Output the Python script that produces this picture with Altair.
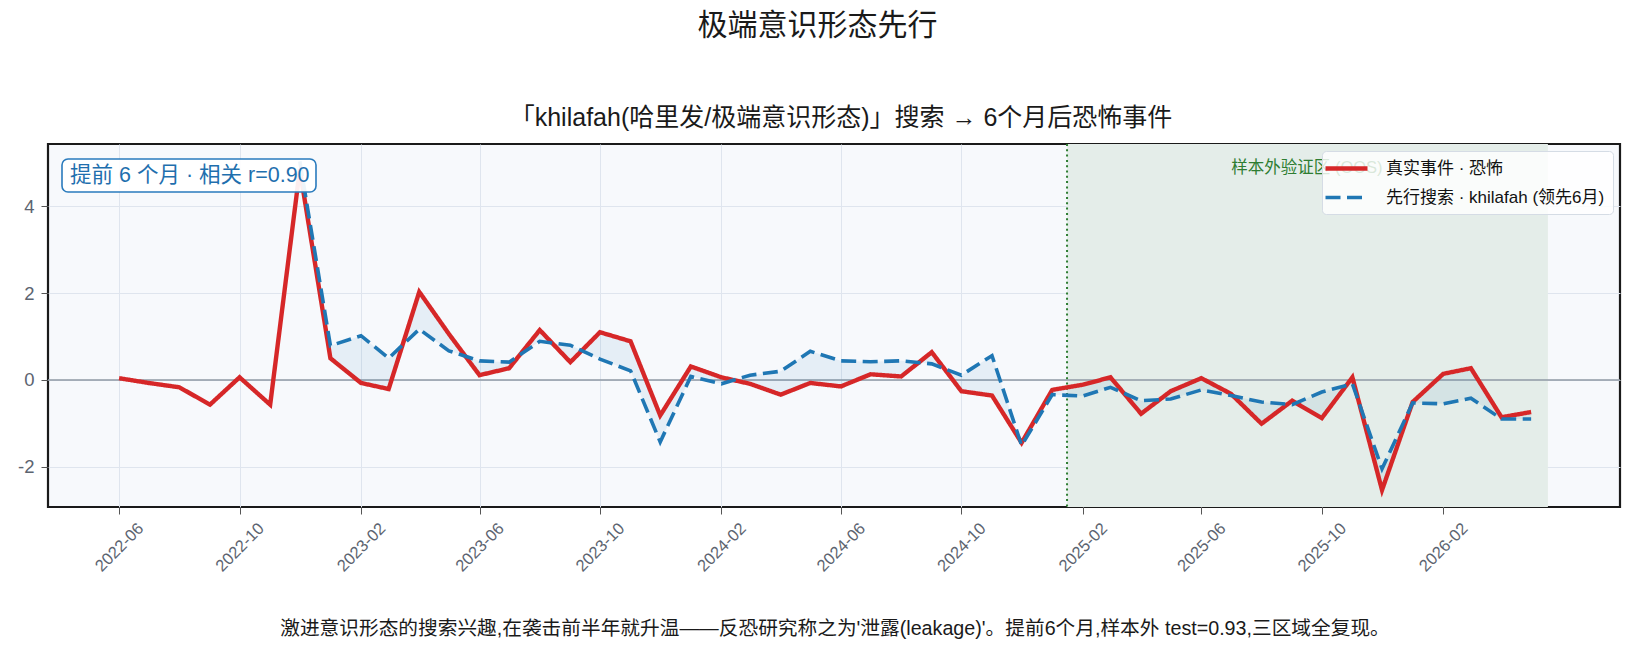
import altair as alt
import pandas as pd
import numpy as np

# ---------------- data ----------------
months = [d.strftime("%Y-%m-%d") for d in pd.date_range("2022-06-01", periods=48, freq="MS")]

real_events = [0.04, -0.07, -0.17, -0.57, 0.06, -0.57, 4.85, 0.50, -0.07, -0.21,
               2.03, 1.06, 0.11, 0.27, 1.15, 0.41, 1.10, 0.89, -0.82, 0.31,
               0.06, -0.09, -0.34, -0.07, -0.15, 0.13, 0.08, 0.64, -0.26, -0.36,
               -1.45, -0.23, -0.11, 0.06, -0.78, -0.26, 0.04, -0.32, -1.01, -0.48,
               -0.88, 0.06, -2.54, -0.51, 0.14, 0.27, -0.86, -0.74]

lead_search = [None, None, None, None, None, None, 5.04, 0.79, 1.02, 0.50,
               1.17, 0.67, 0.44, 0.41, 0.89, 0.80, 0.48, 0.21, -1.43, 0.08,
               -0.09, 0.11, 0.20, 0.66, 0.44, 0.42, 0.44, 0.37, 0.11, 0.56,
               -1.51, -0.34, -0.37, -0.17, -0.48, -0.44, -0.23, -0.36, -0.51, -0.57,
               -0.28, -0.09, -2.05, -0.53, -0.55, -0.42, -0.90, -0.90]

series_names = ["真实事件 · 恐怖", "先行搜索 · khilafah (领先6月)"]
series_colors = ["#d62728", "#1f77b4"]

oos_start = "2025-01-16"
oos_end = "2026-05-18"
oos_mid = "2025-09-16"
oos_label = "样本外验证区 (OOS)"

x_tick_labels = ["2022-06", "2022-10", "2023-02", "2023-06", "2023-10", "2024-02",
                 "2024-06", "2024-10", "2025-02", "2025-06", "2025-10", "2026-02"]
y_ticks = [-2, 0, 2, 4]

title_text = "极端意识形态先行"
subtitle_text = "「khilafah(哈里发/极端意识形态)」搜索 → 6个月后恐怖事件"
caption_text = "激进意识形态的搜索兴趣,在袭击前半年就升温——反恐研究称之为'泄露(leakage)'。提前6个月,样本外 test=0.93,三区域全复现。"
badge_text = "提前 6 个月 · 相关 r=0.90"

# ---------------- frames ----------------
wide = pd.DataFrame({"date": months, "real": real_events, "lead": lead_search})
long_rows = []
for m, r, l in zip(months, real_events, lead_search):
    long_rows.append({"date": m, "series": series_names[0], "value": r})
    if l is not None:
        long_rows.append({"date": m, "series": series_names[1], "value": l})
long = pd.DataFrame(long_rows)
fill_df = wide.dropna(subset=["lead"])

FONT = "Liberation Sans, Noto Sans CJK SC, sans-serif"
W, H = 1572, 363

def ts(s):
    return int(pd.Timestamp(s).value // 10**6)

x_scale = alt.Scale(type="utc", domain=[ts("2022-03-21"), ts("2026-07-30")])
y_scale = alt.Scale(domain=[-2.93, 5.44], nice=False, zero=False)

tick_vals = [alt.DateTime(year=int(t[:4]), month=int(t[5:]), date=1, utc=True) for t in x_tick_labels]

x_axis = alt.Axis(values=tick_vals, format="%Y-%m", labelAngle=-45, labelAlign="center",
                  labelBaseline="middle", labelPadding=33, title=None, grid=True,
                  labelFontSize=16.5, labelColor="#5c6470", tickColor="#555",
                  tickSize=7, domain=False, labelFont=FONT)
y_axis = alt.Axis(values=y_ticks, title=None, grid=True, labelFontSize=18.5,
                  labelColor="#5c6470", tickColor="#555", tickSize=7, labelPadding=7,
                  domain=False, labelFont=FONT, labelExpr="toString(datum.value)")

base_x = alt.X("date:T", scale=x_scale, axis=x_axis)

# OOS span
span_df = pd.DataFrame({"s": [oos_start], "e": [oos_end]})
span = alt.Chart(span_df).mark_rect(color="#e4ede9", opacity=1).encode(
    x=alt.X("s:T", scale=x_scale, axis=x_axis), x2="e:T")

vline = alt.Chart(pd.DataFrame({"s": [oos_start]})).mark_rule(
    color="#2e7d32", strokeDash=[2, 3.3], strokeWidth=2).encode(x=alt.X("s:T", scale=x_scale))

zero = alt.Chart(pd.DataFrame({"z": [0]})).mark_rule(color="#8f98a5", strokeWidth=1.6).encode(
    y=alt.Y("z:Q", scale=y_scale, axis=y_axis))

fill = alt.Chart(fill_df).mark_area(color="#1f77b4", opacity=0.08, clip=True).encode(
    x=alt.X("date:T", scale=x_scale), y=alt.Y("real:Q", scale=y_scale), y2="lead:Q")

lines = alt.Chart(long).mark_line(clip=True).encode(
    x=base_x,
    y=alt.Y("value:Q", scale=y_scale, axis=y_axis),
    color=alt.Color("series:N", scale=alt.Scale(domain=series_names, range=series_colors), title=None),
    strokeDash=alt.StrokeDash("series:N", scale=alt.Scale(domain=series_names, range=[[1, 0], [15, 6.5]]), title=None),
    strokeWidth=alt.StrokeWidth("series:N", scale=alt.Scale(domain=series_names, range=[4.4, 3.6]), title=None),
)

oos_text = alt.Chart(pd.DataFrame({"d": [oos_mid], "t": [oos_label]})).mark_text(
    color="#2e7d32", fontSize=16.5, font=FONT, baseline="middle", align="center").encode(
    x=alt.X("d:T", scale=x_scale), y=alt.value(24), text="t:N")

one = pd.DataFrame({"a": [0]})
badge_box = alt.Chart(one).mark_rect(fill="white", fillOpacity=0.92, stroke="#2a7bbd",
                                     strokeWidth=1.6, cornerRadius=6).encode(
    x=alt.value(14), x2=alt.value(268), y=alt.value(15), y2=alt.value(48))
badge = alt.Chart(pd.DataFrame({"t": [badge_text]})).mark_text(
    color="#1f6fae", fontSize=21.5, font=FONT, align="left", baseline="middle").encode(
    x=alt.value(22), y=alt.value(31.5), text="t:N")

title = alt.Chart(pd.DataFrame({"t": [title_text]})).mark_text(
    color="#1a1a1a", fontSize=30, font=FONT, align="center", baseline="middle").encode(
    x=alt.value(769.5), y=alt.value(-118), text="t:N")
subtitle = alt.Chart(pd.DataFrame({"t": [subtitle_text]})).mark_text(
    color="#1a1a1a", fontSize=25, font=FONT, align="center", baseline="middle").encode(
    x=alt.value(793), y=alt.value(-26), text="t:N")
caption = alt.Chart(pd.DataFrame({"t": [caption_text]})).mark_text(
    color="#1a1a1a", fontSize=19.7, font=FONT, align="center", baseline="middle").encode(
    x=alt.value(787), y=alt.value(485), text="t:N")

chart = alt.layer(span, vline, zero, fill, lines, oos_text, badge_box, badge,
                  title, subtitle, caption).properties(
    width=W, height=H,
    background="white",
    autosize=alt.AutoSizeParams(type="none"),
    padding={"left": 40, "top": 136, "right": 5, "bottom": 137},
).configure_view(
    fill="#f7f9fc", stroke="#1a1a1a", strokeWidth=2.2
).configure_axis(
    gridColor="#dfe5ee", gridWidth=1
).configure_legend(
    orient="none", legendX=1274, legendY=7, direction="vertical", padding=8,
    fillColor="rgba(255,255,255,0.82)", strokeColor="#d5dce5", cornerRadius=4,
    labelFont=FONT, labelFontSize=17, labelColor="#111111",
    symbolType="M-2,0H4", symbolSize=196, labelOffset=37, rowPadding=10.5,
    labelLimit=400,
)

chart.save("out.html", embed_options={"renderer": "svg", "actions": False})
